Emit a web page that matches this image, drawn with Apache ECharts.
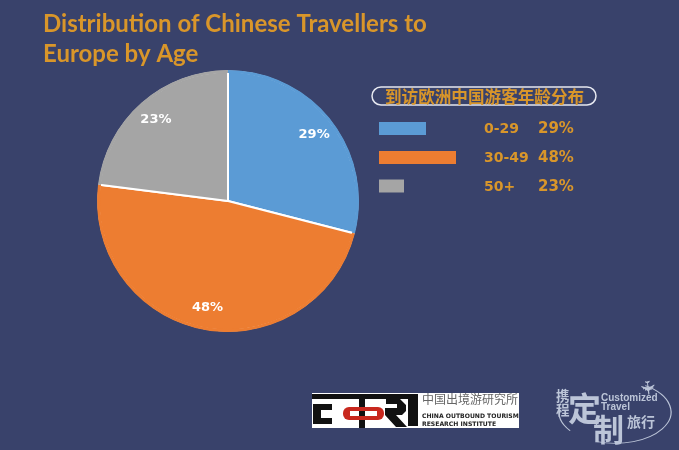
<!DOCTYPE html>
<html><head><meta charset="utf-8">
<script src="https://cdn.jsdelivr.net/npm/echarts@6/dist/echarts.min.js"></script>
<style>html,body{margin:0;padding:0;background:#39426b}#c{width:679px;height:450px}</style></head>
<body><div id="c"></div>
<script>
const categories = ['0-29', '30-49', '50+'];
const shares = [29, 48, 23];
const sliceColors = ['#5b9bd5', '#ed7d31', '#a5a5a5'];
const swatchWidths = [47, 77, 25];
const titleText = 'Distribution of Chinese Travellers to\nEurope by Age';
const legendTitle = '到访欧洲中国游客年龄分布';

const gold = '#d9962a';
const bg = '#39426b';
const tf = '"DejaVu Sans","Noto Sans CJK SC",sans-serif';
const cjk = '"Noto Sans CJK SC",sans-serif';
const data = categories.map((n, i) => ({ name: n, value: shares[i], itemStyle: { color: sliceColors[i] } }));
const g = [];
const txt = (x, y, text, style) => g.push({ type: 'text', x, y, silent: true, style: Object.assign({ text, fill: gold, verticalAlign: 'middle' }, style) });
const rect = (x, y, w, h, fill, extra) => g.push({ type: 'rect', x, y, silent: true, shape: Object.assign({ width: w, height: h }, extra || {}), style: { fill } });
const poly = (points, fill) => g.push({ type: 'polygon', silent: true, shape: { points }, style: { fill } });

// legend panel
g.push({ type: 'rect', x: 372, y: 87, silent: true, shape: { width: 224, height: 18, r: 9 }, style: { fill: 'transparent', stroke: '#e6e8f0', lineWidth: 1.5 } });
txt(385, 96.5, legendTitle, { font: 'bold 16.6px ' + cjk });
const rowY = [128.5, 157.5, 186];
const ageX = 484, pctX = 538;
categories.map((c, i) => {
  rect(379, rowY[i] - 6.5, swatchWidths[i], 13, sliceColors[i]);
  txt(ageX, rowY[i] + 1, c, { font: 'bold 14px ' + tf });
  txt(pctX, rowY[i] + 1, shares[i] + '%', { font: 'bold 15px ' + tf });
});

// COTRI logo
rect(312, 393, 207, 35, '#ffffff');
rect(312, 394, 106, 5, '#111111');
rect(313, 404, 19, 20, '#111111');
rect(321, 410, 11, 8, '#ffffff');
rect(359, 399, 6, 29, '#111111');
rect(343, 407, 41, 13, '#c8281e', { r: 6 });
rect(350, 411, 27, 5, '#ffffff');
rect(359, 411, 6, 5, '#111111');
poly([[386, 399], [400, 399], [406, 405], [406, 411], [402, 415], [396, 415], [407, 427], [396, 427], [385, 415], [385, 408], [397, 408], [397, 404], [386, 404]], '#111111');
rect(408, 394, 10, 32, '#111111');
txt(422, 399, '中国出境游研究所', { fill: '#666666', font: '12px ' + cjk });
txt(422, 416.5, 'CHINA OUTBOUND TOURISM', { fill: '#222222', font: 'bold 6.1px "DejaVu Sans",sans-serif' });
txt(422, 424.5, 'RESEARCH INSTITUTE', { fill: '#222222', font: 'bold 6.1px "DejaVu Sans",sans-serif' });

// Customized Travel logo
const lc = '#bcc5d8';
const arc = (a0, a1) => g.push({ type: 'arc', silent: true, x: 615, y: 412, scaleX: 1, scaleY: 0.56, shape: { cx: 0, cy: 0, r: 56, startAngle: a0, endAngle: a1 }, style: { fill: 'none', stroke: lc, lineWidth: 1.2 } });
arc(-1.0, 1.9);
arc(2.5, 3.3);
txt(556, 396, '携', { fill: lc, font: 'bold 13.5px ' + cjk });
txt(556, 410, '程', { fill: lc, font: 'bold 13.5px ' + cjk });
txt(568, 408, '定', { fill: lc, font: 'bold 33px ' + cjk });
txt(593, 429, '制', { fill: lc, font: 'bold 31px ' + cjk });
txt(627, 422, '旅行', { fill: lc, font: 'bold 14px ' + cjk });
txt(601, 398, 'Customized', { fill: lc, font: 'bold 10px "Liberation Sans",sans-serif' });
txt(601, 407, 'Travel', { fill: lc, font: 'bold 10px "Liberation Sans",sans-serif' });
g.push({ type: 'text', x: 646, y: 388, rotation: -1.45, silent: true, style: { text: '✈', fill: lc, font: '19px "DejaVu Sans",sans-serif', align: 'center', verticalAlign: 'middle' } });

const chart = echarts.init(document.getElementById('c'), null, { renderer: 'canvas' });
chart.setOption({
  animation: false,
  backgroundColor: bg,
  title: {
    text: titleText, left: 38, top: 4,
    textStyle: { color: gold, fontFamily: 'Lato,"Open Sans",sans-serif', fontWeight: 'bold', fontSize: 24, lineHeight: 30 }
  },
  series: [
    {
      type: 'pie', silent: true, center: [228, 201], radius: [0, 129.5], startAngle: 90, clockwise: true,
      label: { show: false }, labelLine: { show: false },
      itemStyle: { borderColor: '#ffffff', borderWidth: 2 }, data
    },
    {
      type: 'pie', silent: true, center: [228, 201], radius: [128, 131], startAngle: 90, clockwise: true,
      label: { show: false }, labelLine: { show: false },
      itemStyle: { borderWidth: 0 }, data
    },
    {
      type: 'pie', silent: true, center: [228, 201], radius: [81, 131], startAngle: 90, clockwise: true,
      itemStyle: { color: 'transparent', borderWidth: 0 },
      label: { show: true, position: 'inside', formatter: '{c}%', color: '#ffffff', fontFamily: tf, fontWeight: 'bold', fontSize: 13 },
      labelLine: { show: false },
      data: data.map(d => ({ name: d.name, value: d.value, itemStyle: { color: 'transparent' } }))
    }
  ],
  graphic: { elements: g }
});
</script></body></html>
